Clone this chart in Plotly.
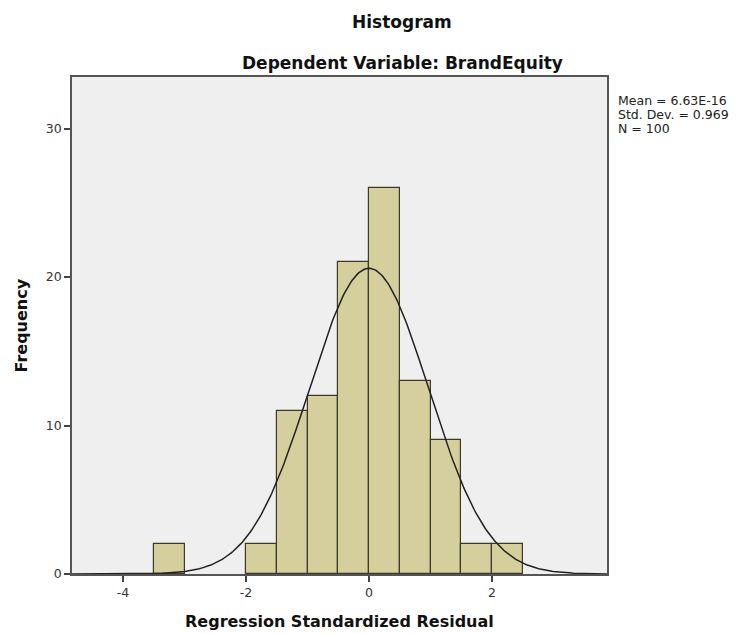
import numpy as np
import plotly.graph_objects as go

# Data
bin_left = [-3.5, -2.0, -1.5, -1.0, -0.5, 0.0, 0.5, 1.0, 1.5, 2.0]
counts = [2, 2, 11, 12, 21, 26, 13, 9, 2, 2]
bin_width = 0.5
mean_val = 6.63e-16
sd_val = 0.969
n_val = 100
x_ticks = [-4, -2, 0, 2]
x_tick_labels = ["-4", "-2", "0", "2"]
y_ticks = [0, 10, 20, 30]

centers = [b + bin_width / 2 for b in bin_left]

xr = [-4.83, 3.87]
xs = np.linspace(xr[0], xr[1], 400)
ys = n_val * bin_width / (sd_val * np.sqrt(2 * np.pi)) * np.exp(-0.5 * ((xs - mean_val) / sd_val) ** 2)

fig = go.Figure()
fig.add_trace(go.Bar(
    x=centers, y=counts, width=bin_width,
    marker=dict(color="#d4cf9c", line=dict(color="#3b3a28", width=1.2)),
    showlegend=False, hoverinfo="x+y",
))
fig.add_trace(go.Scatter(
    x=xs, y=ys, mode="lines",
    line=dict(color="#222222", width=1.5),
    showlegend=False, hoverinfo="skip",
))

font_family = "DejaVu Sans, Open Sans, sans-serif"

stats_lines = [
    f"Mean = {mean_val:.2E}",
    f"Std. Dev. = {sd_val:.3f}",
    f"N = {n_val}",
]

annotations = [
    dict(text="<b>Histogram</b>", xref="paper", yref="paper", x=0.617, y=1.0,
         yshift=55, showarrow=False, font=dict(size=17, color="#111111"),
         xanchor="center", yanchor="middle"),
    dict(text="<b>Dependent Variable: BrandEquity</b>", xref="paper", yref="paper",
         x=0.617, y=1.0, yshift=14, showarrow=False,
         font=dict(size=17, color="#111111"), xanchor="center", yanchor="middle"),
    dict(text="<b>Frequency</b>", xref="paper", yref="paper", x=0, xshift=-51,
         y=0.5, textangle=-90, showarrow=False,
         font=dict(size=16, color="#111111"), xanchor="center", yanchor="middle"),
    dict(text="<b>Regression Standardized Residual</b>", xref="paper", yref="paper",
         x=0.5, y=0, yshift=-47, showarrow=False,
         font=dict(size=16, color="#111111"), xanchor="center", yanchor="middle"),
]
for i, line in enumerate(stats_lines):
    annotations.append(dict(
        text=line, xref="paper", yref="paper", x=1.0, xshift=9, y=1.0,
        yshift=-23 - 14 * i, showarrow=False, align="left",
        xanchor="left", yanchor="middle",
        font=dict(size=12.5, color="#222222"),
    ))

fig.update_layout(
    width=748, height=634,
    margin=dict(l=72, r=141, t=77, b=60),
    paper_bgcolor="white",
    plot_bgcolor="#efefef",
    bargap=0,
    font=dict(family=font_family, size=12, color="#333333"),
    xaxis=dict(
        range=xr, tickvals=x_ticks, ticktext=x_tick_labels,
        showgrid=False, zeroline=False,
        showline=True, linecolor="#555555", linewidth=1.5, mirror=True,
        ticks="outside", ticklen=6, tickcolor="#444444", tickwidth=1.5,
        tickfont=dict(size=12.5, color="#333333"),
    ),
    yaxis=dict(
        range=[0, 33.47], tickvals=y_ticks,
        showgrid=False, zeroline=False,
        showline=True, linecolor="#555555", linewidth=1.5, mirror=True,
        ticks="outside", ticklen=6, tickcolor="#444444", tickwidth=1.5,
        tickfont=dict(size=12.5, color="#333333"),
    ),
    annotations=annotations,
)

fig.write_html("out.html")
